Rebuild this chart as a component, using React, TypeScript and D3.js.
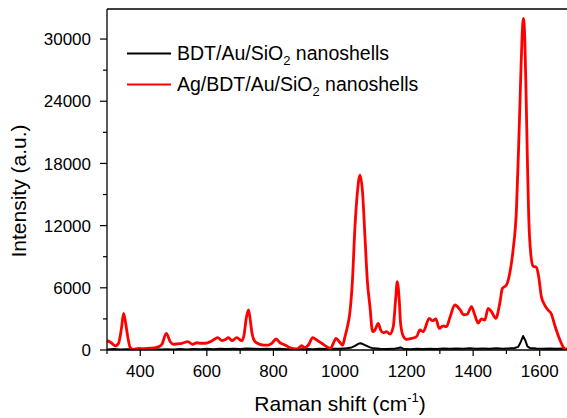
import React from "react";
import * as d3 from "d3";

const redShift = [300,310,320,325,335,343,350,356,363,370,380,395,410,425,440,455,465,478,490,500,512,525,543,557,570,582,595,615,633,645,655,665,675,690,705,712,718,725,730,735,745,760,770,785,795,808,820,835,850,865,875,885,893,905,918,930,945,960,972,980,988,998,1008,1015,1022,1030,1037,1045,1052,1060,1068,1075,1082,1090,1098,1105,1115,1122,1130,1140,1150,1160,1167,1172,1178,1182,1190,1200,1215,1230,1240,1250,1268,1278,1288,1298,1310,1320,1330,1345,1360,1372,1382,1395,1405,1415,1425,1435,1445,1455,1468,1480,1488,1500,1510,1520,1530,1537,1543,1547,1551,1555,1559,1563,1567,1573,1580,1590,1597,1605,1615,1625,1635,1645,1655,1665,1675,1685];
const redIntensity = [900,750,500,390,680,2000,3540,2600,1150,220,50,160,120,160,200,320,550,1610,800,550,600,650,800,550,700,650,650,870,1190,900,1000,1190,900,1190,900,1500,3000,3860,3000,1770,800,550,480,480,650,1060,700,480,220,100,160,420,220,480,1190,965,650,320,160,650,1125,800,480,1300,2200,3700,6500,11900,15100,16880,15100,10930,6750,4180,1770,1930,2570,1930,1670,1770,1540,2250,4820,6590,4820,2570,1350,1030,1125,1285,1930,1770,3050,2830,3000,2090,2320,2250,3100,4340,3920,3400,3450,4180,3380,2600,3000,2890,4020,3700,3050,4500,5950,6270,7400,9650,13500,19940,26360,30220,32000,30220,24760,18330,12860,9330,8100,7980,7070,5140,4340,3860,3470,2410,1450,650,100,0];

const blackShift = [300,320,340,360,380,400,420,440,460,480,500,520,540,560,580,600,620,640,660,680,700,720,740,760,780,800,820,840,860,880,900,920,940,960,980,1000,1020,1035,1045,1055,1062,1070,1080,1090,1100,1120,1140,1160,1175,1182,1190,1210,1230,1250,1270,1290,1310,1330,1350,1370,1390,1410,1430,1450,1470,1490,1510,1525,1535,1542,1550,1557,1563,1570,1590,1610,1630,1650,1670,1690];
const blackIntensity = [60,90,40,80,50,70,40,90,60,80,50,90,60,100,70,110,80,120,90,130,100,140,120,100,130,90,120,80,110,70,100,80,110,90,130,110,160,250,400,600,650,550,400,250,160,120,100,110,200,250,130,80,120,90,130,100,140,110,150,120,160,130,150,120,170,130,160,200,300,700,1350,900,350,200,150,120,150,110,140,120];

const xTickValues = [300,400,500,600,700,800,900,1000,1100,1200,1300,1400,1500,1600,1700];
const xTickLabels = ["","400","","600","","800","","1000","","1200","","1400","","1600",""];
const yTickValues = [0,3000,6000,9000,12000,15000,18000,21000,24000,27000,30000];
const yTickLabels = ["0","","6000","","12000","","18000","","24000","","30000"];

const seriesNames = ["BDT/Au/SiO", "Ag/BDT/Au/SiO"];

const W = 567, H = 418;
const L = 107, R = 573, T = 9, B = 350;
const font = "'Liberation Sans', Arial, sans-serif";

export default function App() {
  const x = d3.scaleLinear().domain([300, 1700]).range([L, R]);
  const y = d3.scaleLinear().domain([0, 32900]).range([B, T]);
  const line = d3.line<[number, number]>().x(d => x(d[0])).y(d => y(d[1])).curve(d3.curveMonotoneX);
  const lineLin = d3.line<[number, number]>().x(d => x(d[0])).y(d => y(d[1]));
  const red = redShift.map((s, i) => [s, redIntensity[i]] as [number, number]);
  const black = blackShift.map((s, i) => [s, blackIntensity[i]] as [number, number]);
  return (
    <svg width={W} height={H} style={{ position: "absolute", left: 0, top: 0, background: "#fff" }} fontFamily={font}>
      <defs>
        <clipPath id="plot"><rect x={L} y={T} width={R - L} height={B - T} /></clipPath>
      </defs>
      <rect x={0} y={0} width={W} height={H} fill="#fff" />
      <g clipPath="url(#plot)">
        <path d={lineLin(black) || ""} fill="none" stroke="#000" strokeWidth={2} strokeLinejoin="round" />
        <path d={line(red) || ""} fill="none" stroke="#ff0000" strokeWidth={2.8} strokeLinejoin="round" />
      </g>
      <line x1={L} x2={R} y1={B} y2={B} stroke="#000" strokeWidth={1.3} />
      <line x1={L} x2={R} y1={T} y2={T} stroke="#000" strokeWidth={1.3} />
      <line x1={L} x2={L} y1={T} y2={B} stroke="#000" strokeWidth={1.3} />
      {xTickValues.map((v, i) => (
        <g key={"x" + v}>
          <line x1={x(v)} x2={x(v)} y1={B} y2={B + (xTickLabels[i] ? 6 : 4)} stroke="#000" strokeWidth={1.2} />
          {xTickLabels[i] && (
            <text x={x(v)} y={377} textAnchor="middle" fontSize={17} fill="#000">{xTickLabels[i]}</text>
          )}
        </g>
      ))}
      {yTickValues.map((v, i) => (
        <g key={"y" + v}>
          <line x1={L} x2={L - (yTickLabels[i] ? 7 : 4)} y1={y(v)} y2={y(v)} stroke="#000" strokeWidth={1.2} />
          {yTickLabels[i] && (
            <text x={91} y={y(v)} dy="0.36em" textAnchor="end" fontSize={17} fill="#000">{yTickLabels[i]}</text>
          )}
        </g>
      ))}
      <text x={340} y={411} textAnchor="middle" fontSize={21} fill="#000">
        Raman shift (cm<tspan fontSize={13} dy={-9}>-1</tspan><tspan dy={9}>)</tspan>
      </text>
      <text transform="translate(26,191) rotate(-90)" textAnchor="middle" fontSize={21} fill="#000">Intensity (a.u.)</text>
      <g>
        <line x1={127} x2={171} y1={53.5} y2={53.5} stroke="#000" strokeWidth={2.2} />
        <text x={177} y={60} fontSize={19.5} fill="#000">{seriesNames[0]}<tspan fontSize={13} dy={5}>2</tspan><tspan dy={-5}> nanoshells</tspan></text>
        <line x1={127} x2={171} y1={84.5} y2={84.5} stroke="#ff0000" strokeWidth={2.2} />
        <text x={177} y={91} fontSize={19.5} fill="#000">{seriesNames[1]}<tspan fontSize={13} dy={5}>2</tspan><tspan dy={-5}> nanoshells</tspan></text>
      </g>
    </svg>
  );
}
